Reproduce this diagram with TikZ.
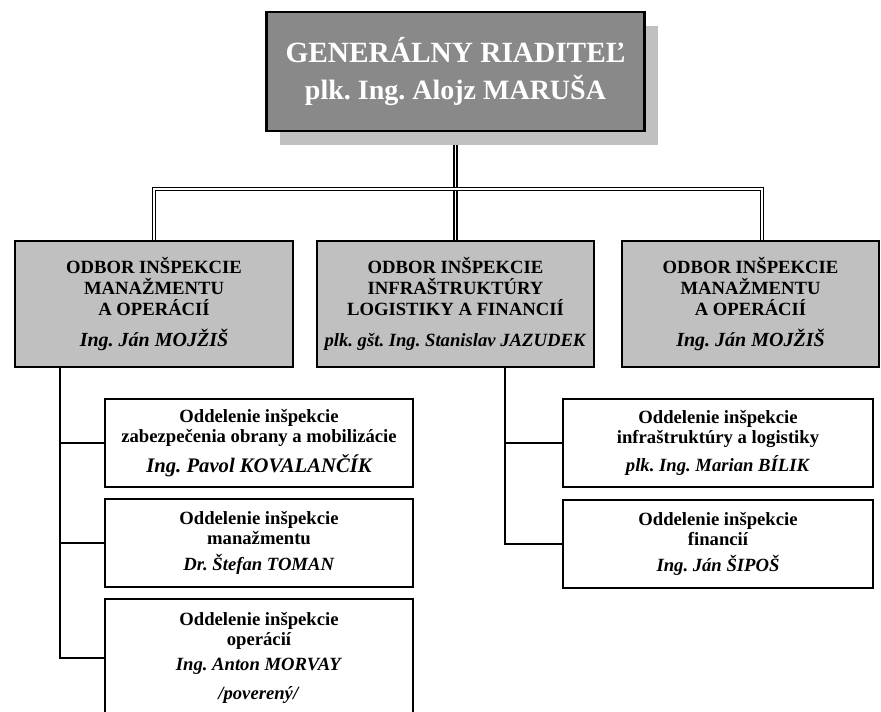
\documentclass[tikz,border=0pt]{standalone}
\usepackage{fontspec}
\setmainfont{Liberation Serif}
\usetikzlibrary{positioning,shadows,backgrounds}
\frenchspacing

\definecolor{topgray}{RGB}{137,137,137}
\definecolor{odborgray}{RGB}{192,192,192}

\begin{document}
\begin{tikzpicture}[x=0.75pt,y=-0.75pt,
  riaditel/.style={draw=black,line width=2pt,fill=topgray,text=white,inner sep=0pt,
    minimum width=283.5pt,minimum height=89.25pt,align=center,
    font=\fontsize{22}{27.75}\selectfont\bfseries,
    drop shadow={shadow xshift=9.75pt,shadow yshift=-10.5pt,fill=odborgray,opacity=1}},
  odbor/.style={draw=black,line width=2pt,fill=odborgray,inner sep=0pt,
    minimum height=94.5pt,align=center,font=\fontsize{14}{15.5}\selectfont\bfseries},
  oddelenie/.style={draw=black,line width=2pt,fill=white,inner sep=0pt,
    minimum width=231pt,minimum height=66pt,align=center,font=\fontsize{14}{15}\selectfont\bfseries},
  spoj/.style={line width=2pt},
  dvoj/.style={draw=black,line width=0.9pt,double=white,double distance=1.4pt}]
\useasboundingbox (0,0) rectangle (881,712);

\node[riaditel] (gr) at (455.5,71.5) {GENERÁLNY RIADITEĽ\\{\fontsize{21}{27.75}\selectfont plk. Ing. Alojz MARUŠA}};

\node[odbor,minimum width=208.5pt] (om) at (154,304) {ODBOR INŠPEKCIE\\MANAŽMENTU\\A OPERÁCIÍ\\[7.75pt]{\fontsize{15}{15.5}\selectfont\itshape Ing. Ján MOJŽIŠ}};
\node[odbor,minimum width=207.75pt] (oi) at (455.5,304) {ODBOR INŠPEKCIE\\INFRAŠTRUKTÚRY\\LOGISTIKY A FINANCIÍ\\[7.75pt]\textit{plk. gšt. Ing. Stanislav JAZUDEK}};
\node[odbor,minimum width=192.75pt] (om2) at (750.5,304) {ODBOR INŠPEKCIE\\MANAŽMENTU\\A OPERÁCIÍ\\[7.75pt]{\fontsize{15}{15.5}\selectfont\itshape Ing. Ján MOJŽIŠ}};

\node[oddelenie] (zob) at (259,443) {Oddelenie inšpekcie\\zabezpečenia obrany a mobilizácie\\[5pt]{\fontsize{15.5}{15}\selectfont\itshape Ing. Pavol KOVALANČÍK}};
\node[oddelenie] (man) at (259,543) {Oddelenie inšpekcie\\manažmentu\\[5pt]\textit{Dr. Štefan TOMAN}};
\node[oddelenie,minimum height=88.5pt] (ope) at (259,658) {Oddelenie inšpekcie\\operácií\\[4pt]\textit{Ing. Anton MORVAY}\\[7pt]\textit{/poverený/}};

\node[oddelenie,minimum width=232.5pt] (inf) at (718,443) {Oddelenie inšpekcie\\infraštruktúry a logistiky\\[5pt]\textit{plk. Ing. Marian BÍLIK}};
\node[oddelenie,minimum width=232.5pt] (fin) at (718,544) {Oddelenie inšpekcie\\financií\\[5pt]\textit{Ing. Ján ŠIPOŠ}};

\coordinate (hl) at (154,189);
\coordinate (hp) at (762,189);
\coordinate (lv) at (60,367);
\coordinate (mv) at (505,367);

\begin{scope}[on background layer]
\draw[dvoj] (gr.south) -- (oi.north);
\draw[dvoj] (om.north) -- (hl) -- (hp) -- (hp |- om2.north);
\end{scope}

\draw[spoj] (lv) |- (ope.west);
\draw[spoj] (zob.west -| lv) -- (zob.west);
\draw[spoj] (man.west -| lv) -- (man.west);

\draw[spoj] (mv) |- (fin.west);
\draw[spoj] (inf.west -| mv) -- (inf.west);
\end{tikzpicture}
\end{document}
